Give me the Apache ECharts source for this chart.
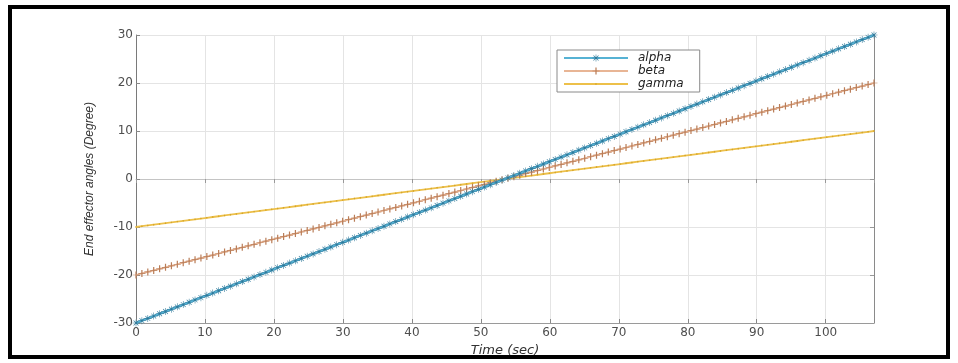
<!DOCTYPE html>
<html>
<head>
<meta charset="utf-8">
<script src="https://cdn.jsdelivr.net/npm/echarts@6/dist/echarts.min.js"></script>
<style>
  html, body { margin: 0; padding: 0; background: #ffffff; }
  #chart { width: 958px; height: 363px; }
</style>
</head>
<body>
<div id="chart"></div>
<script>
// Sample times (sec)
const time = [
  0, 0.856, 1.712, 2.568, 3.424, 4.28, 5.136, 5.992, 6.848, 7.704,
  8.56, 9.416, 10.272, 11.128, 11.984, 12.84, 13.696, 14.552, 15.408, 16.264,
  17.12, 17.976, 18.832, 19.688, 20.544, 21.4, 22.256, 23.112, 23.968, 24.824,
  25.68, 26.536, 27.392, 28.248, 29.104, 29.96, 30.816, 31.672, 32.528, 33.384,
  34.24, 35.096, 35.952, 36.808, 37.664, 38.52, 39.376, 40.232, 41.088, 41.944,
  42.8, 43.656, 44.512, 45.368, 46.224, 47.08, 47.936, 48.792, 49.648, 50.504,
  51.36, 52.216, 53.072, 53.928, 54.784, 55.64, 56.496, 57.352, 58.208, 59.064,
  59.92, 60.776, 61.632, 62.488, 63.344, 64.2, 65.056, 65.912, 66.768, 67.624,
  68.48, 69.336, 70.192, 71.048, 71.904, 72.76, 73.616, 74.472, 75.328, 76.184,
  77.04, 77.896, 78.752, 79.608, 80.464, 81.32, 82.176, 83.032, 83.888, 84.744,
  85.6, 86.456, 87.312, 88.168, 89.024, 89.88, 90.736, 91.592, 92.448, 93.304,
  94.16, 95.016, 95.872, 96.728, 97.584, 98.44, 99.296, 100.152, 101.008, 101.864,
  102.72, 103.576, 104.432, 105.288, 106.144, 107
];

// End effector angles (degree)
const alpha = [
  -30, -29.52, -29.04, -28.56, -28.08, -27.6, -27.12, -26.64, -26.16, -25.68,
  -25.2, -24.72, -24.24, -23.76, -23.28, -22.8, -22.32, -21.84, -21.36, -20.88,
  -20.4, -19.92, -19.44, -18.96, -18.48, -18, -17.52, -17.04, -16.56, -16.08,
  -15.6, -15.12, -14.64, -14.16, -13.68, -13.2, -12.72, -12.24, -11.76, -11.28,
  -10.8, -10.32, -9.84, -9.36, -8.88, -8.4, -7.92, -7.44, -6.96, -6.48,
  -6, -5.52, -5.04, -4.56, -4.08, -3.6, -3.12, -2.64, -2.16, -1.68,
  -1.2, -0.72, -0.24, 0.24, 0.72, 1.2, 1.68, 2.16, 2.64, 3.12,
  3.6, 4.08, 4.56, 5.04, 5.52, 6, 6.48, 6.96, 7.44, 7.92,
  8.4, 8.88, 9.36, 9.84, 10.32, 10.8, 11.28, 11.76, 12.24, 12.72,
  13.2, 13.68, 14.16, 14.64, 15.12, 15.6, 16.08, 16.56, 17.04, 17.52,
  18, 18.48, 18.96, 19.44, 19.92, 20.4, 20.88, 21.36, 21.84, 22.32,
  22.8, 23.28, 23.76, 24.24, 24.72, 25.2, 25.68, 26.16, 26.64, 27.12,
  27.6, 28.08, 28.56, 29.04, 29.52, 30
];

const beta = [
  -20, -19.68, -19.36, -19.04, -18.72, -18.4, -18.08, -17.76, -17.44, -17.12,
  -16.8, -16.48, -16.16, -15.84, -15.52, -15.2, -14.88, -14.56, -14.24, -13.92,
  -13.6, -13.28, -12.96, -12.64, -12.32, -12, -11.68, -11.36, -11.04, -10.72,
  -10.4, -10.08, -9.76, -9.44, -9.12, -8.8, -8.48, -8.16, -7.84, -7.52,
  -7.2, -6.88, -6.56, -6.24, -5.92, -5.6, -5.28, -4.96, -4.64, -4.32,
  -4, -3.68, -3.36, -3.04, -2.72, -2.4, -2.08, -1.76, -1.44, -1.12,
  -0.8, -0.48, -0.16, 0.16, 0.48, 0.8, 1.12, 1.44, 1.76, 2.08,
  2.4, 2.72, 3.04, 3.36, 3.68, 4, 4.32, 4.64, 4.96, 5.28,
  5.6, 5.92, 6.24, 6.56, 6.88, 7.2, 7.52, 7.84, 8.16, 8.48,
  8.8, 9.12, 9.44, 9.76, 10.08, 10.4, 10.72, 11.04, 11.36, 11.68,
  12, 12.32, 12.64, 12.96, 13.28, 13.6, 13.92, 14.24, 14.56, 14.88,
  15.2, 15.52, 15.84, 16.16, 16.48, 16.8, 17.12, 17.44, 17.76, 18.08,
  18.4, 18.72, 19.04, 19.36, 19.68, 20
];

const gamma = [
  -10, -9.84, -9.68, -9.52, -9.36, -9.2, -9.04, -8.88, -8.72, -8.56,
  -8.4, -8.24, -8.08, -7.92, -7.76, -7.6, -7.44, -7.28, -7.12, -6.96,
  -6.8, -6.64, -6.48, -6.32, -6.16, -6, -5.84, -5.68, -5.52, -5.36,
  -5.2, -5.04, -4.88, -4.72, -4.56, -4.4, -4.24, -4.08, -3.92, -3.76,
  -3.6, -3.44, -3.28, -3.12, -2.96, -2.8, -2.64, -2.48, -2.32, -2.16,
  -2, -1.84, -1.68, -1.52, -1.36, -1.2, -1.04, -0.88, -0.72, -0.56,
  -0.4, -0.24, -0.08, 0.08, 0.24, 0.4, 0.56, 0.72, 0.88, 1.04,
  1.2, 1.36, 1.52, 1.68, 1.84, 2, 2.16, 2.32, 2.48, 2.64,
  2.8, 2.96, 3.12, 3.28, 3.44, 3.6, 3.76, 3.92, 4.08, 4.24,
  4.4, 4.56, 4.72, 4.88, 5.04, 5.2, 5.36, 5.52, 5.68, 5.84,
  6, 6.16, 6.32, 6.48, 6.64, 6.8, 6.96, 7.12, 7.28, 7.44,
  7.6, 7.76, 7.92, 8.08, 8.24, 8.4, 8.56, 8.72, 8.88, 9.04,
  9.2, 9.36, 9.52, 9.68, 9.84, 10
];

const seriesNames = ['alpha', 'beta', 'gamma'];
const xTickStep = 10;
const yTickStep = 10;

// Marker shapes: asterisk, plus sign and a small dot (corner anchors keep the dot small)
const asteriskPath = 'path://M4.6,0 H5.4 V10 H4.6 Z M0,4.6 H10 V5.4 H0 Z M1.2,1.8 L1.8,1.2 L8.8,8.2 L8.2,8.8 Z M8.2,1.2 L8.8,1.8 L1.8,8.8 L1.2,8.2 Z';
const plusPath = 'path://M4.4,0 H5.6 V10 H4.4 Z M1.5,4.5 H8.5 V5.5 H1.5 Z';
const dotPath = 'path://M0,0 L0.01,0 L0,0.01 Z M10,10 L9.99,10 L10,9.99 Z M5,3.6 L6.4,5 L5,6.4 L3.6,5 Z';

function pairs(ys) {
  return time.map((t, i) => [t, ys[i]]);
}

const wideFont = '"DejaVu Sans", Verdana, sans-serif';
const narrowFont = '"Liberation Sans", Arial, Helvetica, sans-serif';
const tickLabel = { color: '#4e4e4e', fontSize: 12, fontFamily: wideFont };

const chart = echarts.init(document.getElementById('chart'), null, { renderer: 'canvas' });

chart.setOption({
  animation: false,
  backgroundColor: '#ffffff',
  grid: { left: 136, top: 35, width: 738, height: 288, containLabel: false },
  legend: {
    orient: 'vertical',
    left: 557,
    top: 50,
    data: seriesNames,
    itemWidth: 64,
    itemHeight: 9,
    itemGap: 1,
    padding: [2, 16, 2, 6],
    backgroundColor: '#ffffff',
    borderColor: '#8a8a8a',
    borderWidth: 1,
    borderRadius: 0,
    textStyle: { fontStyle: 'italic', fontSize: 12, lineHeight: 11, color: '#222', fontFamily: wideFont, padding: [0, 0, 0, 5] }
  },
  xAxis: [
    {
      type: 'value', min: 0, max: 107, interval: xTickStep,
      name: 'Time (sec)', nameLocation: 'middle', nameGap: 17,
      nameTextStyle: { fontStyle: 'italic', fontSize: 13, color: '#333', fontFamily: wideFont },
      axisLine: { show: true, onZero: false, lineStyle: { color: '#9a9a9a', width: 1 } },
      axisTick: { show: true, inside: true, length: 4, lineStyle: { color: '#888' } },
      axisLabel: { ...tickLabel, margin: 4, formatter: v => (v % xTickStep === 0 ? String(v) : '') },
      splitLine: { show: true, lineStyle: { color: '#e4e4e4', width: 1 } }
    },
    {
      type: 'value', min: 0, max: 107, interval: xTickStep, position: 'top',
      axisLine: { show: true, lineStyle: { color: '#c4c4c4', width: 1 } },
      axisTick: { show: true, inside: true, length: 4, lineStyle: { color: '#999' } },
      axisLabel: { show: false },
      splitLine: { show: false }
    }
  ],
  yAxis: [
    {
      type: 'value', min: -30, max: 30, interval: yTickStep,
      name: 'End effector angles (Degree)', nameLocation: 'middle', nameGap: 40, nameRotate: 90,
      nameTextStyle: { fontStyle: 'italic', fontSize: 12, color: '#333', fontFamily: narrowFont },
      axisLine: { show: true, onZero: false, lineStyle: { color: '#7a7a7a', width: 1 } },
      axisTick: { show: true, inside: true, length: 4, lineStyle: { color: '#888' } },
      axisLabel: { ...tickLabel, margin: 3 },
      splitLine: { show: true, lineStyle: { color: '#e4e4e4', width: 1 } }
    },
    {
      type: 'value', min: -30, max: 30, interval: yTickStep, position: 'right',
      axisLine: { show: true, onZero: false, lineStyle: { color: '#8a8a8a', width: 1 } },
      axisTick: { show: true, inside: true, length: 4, lineStyle: { color: '#999' } },
      axisLabel: { show: false },
      splitLine: { show: false }
    }
  ],
  series: [
    {
      name: 'alpha', type: 'line', data: pairs(alpha),
      symbol: asteriskPath, symbolSize: 7, showSymbol: true,
      lineStyle: { color: '#56b2d4', width: 2.5 },
      itemStyle: { color: '#2f7899' },
      z: 3
    },
    {
      name: 'beta', type: 'line', data: pairs(beta),
      symbol: plusPath, symbolSize: 7, showSymbol: true,
      lineStyle: { color: '#e8b595', width: 1.8 },
      itemStyle: { color: '#b97d58' },
      z: 2
    },
    {
      name: 'gamma', type: 'line', data: pairs(gamma),
      symbol: dotPath, symbolSize: 7, showSymbol: true,
      lineStyle: { color: '#edc04a', width: 1.8 },
      itemStyle: { color: '#d4a52a' },
      z: 1
    }
  ],
  graphic: [
    {
      type: 'rect', silent: true, z: 100,
      shape: { x: 10, y: 7, width: 938, height: 350 },
      style: { fill: 'none', stroke: '#000000', lineWidth: 4 }
    }
  ]
});
</script>
</body>
</html>
